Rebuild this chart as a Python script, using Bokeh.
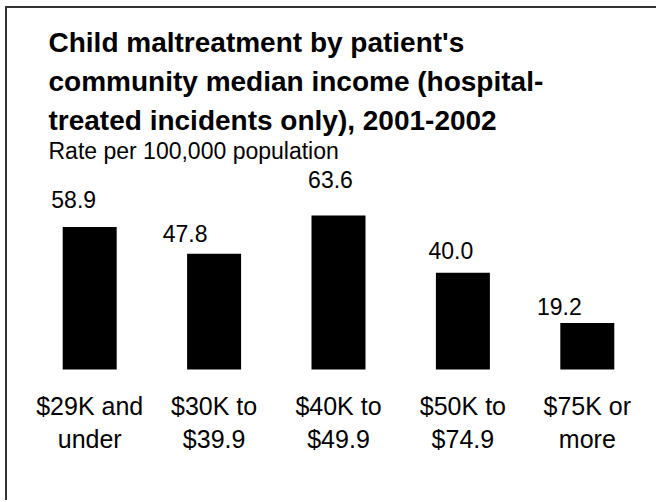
from bokeh.plotting import figure
from bokeh.models import ColumnDataSource, Label, FactorRange, Range1d
from bokeh.core.properties import value
from bokeh.embed import file_html
from bokeh.resources import INLINE

# ---- data ----
title_lines = [
    "Child maltreatment by patient's",
    "community median income (hospital-",
    "treated incidents only), 2001-2002",
]
subtitle = "Rate per 100,000 population"
categories = ["$29K and\nunder", "$30K to\n$39.9", "$40K to\n$49.9",
              "$50K to\n$74.9", "$75K or\nmore"]
rates = [58.9, 47.8, 63.6, 40.0, 19.2]
rate_labels = ["58.9", "47.8", "63.6", "40.0", "19.2"]

# ---- styling (pixel offsets of the value labels, as in the original) ----
label_dx = [-16, -29, -8, -12, -28]
label_dy = [-19, -12, -28, -14, -9]

FONT = "Liberation Sans"
SHIFT = -8            # compensation for rendered text baseline
ORG_X, ORG_Y = 7, 8   # page position of the canvas origin
W, H = 651, 494
LEFT, RIGHT = 20, 9
BASE_Y = 369 - ORG_Y  # baseline position from canvas top, px
PX_PER_UNIT = 2.42

y_top = BASE_Y / PX_PER_UNIT
y_bot = -(H - BASE_Y) / PX_PER_UNIT

p = figure(
    x_range=FactorRange(*categories),
    y_range=Range1d(y_bot, y_top),
    width=W, height=H,
    output_backend="svg", toolbar_location=None,
    min_border_left=LEFT, min_border_right=RIGHT,
    min_border_top=0, min_border_bottom=0,
)
p.axis.visible = False
p.xgrid.visible = False
p.ygrid.visible = False
p.outline_line_color = None
p.background_fill_color = "white"
p.border_fill_color = "white"
p.styles = {"margin-left": "5px", "margin-top": "6px",
            "border-left": "2px solid #333333",
            "border-top": "2px solid #333333"}

src = ColumnDataSource(dict(
    cat=categories, rate=rates, label=rate_labels,
    dx=label_dx, dy=[d + SHIFT for d in label_dy],
    line1=[c.split("\n")[0] for c in categories],
    line2=[c.split("\n")[1] for c in categories],
    zero=[0] * len(categories),
))

p.vbar(x="cat", top="rate", width=0.434, source=src,
       fill_color="black", line_color=None)

p.text(x="cat", y="rate", text="label", x_offset="dx", y_offset="dy",
       source=src, text_font=value(FONT), text_font_size="23px",
       text_align="center", text_baseline="alphabetic", text_color="black")

p.text(x="cat", y="zero", text="line1", y_offset=44 + SHIFT, source=src,
       text_font=value(FONT), text_font_size="25px",
       text_align="center", text_baseline="alphabetic", text_color="black")
p.text(x="cat", y="zero", text="line2", y_offset=77 + SHIFT, source=src,
       text_font=value(FONT), text_font_size="25px",
       text_align="center", text_baseline="alphabetic", text_color="black")

# title & subtitle (screen units relative to the plot frame, origin bottom-left)
frame_x0 = ORG_X + LEFT
frame_bottom = ORG_Y + H
for i, line in enumerate(title_lines):
    base = [50, 89, 128][i] + SHIFT
    p.add_layout(Label(
        x=48 - frame_x0, y=frame_bottom - base,
        x_units="screen", y_units="screen", text=line,
        text_font=FONT, text_font_size="28px", text_font_style="bold",
        text_baseline="alphabetic", text_color="black"))
p.add_layout(Label(
    x=48 - frame_x0, y=frame_bottom - (158 + SHIFT),
    x_units="screen", y_units="screen", text=subtitle,
    text_font=FONT, text_font_size="23px",
    text_baseline="alphabetic", text_color="black"))

open("out.html", "w").write(file_html(p, INLINE))
